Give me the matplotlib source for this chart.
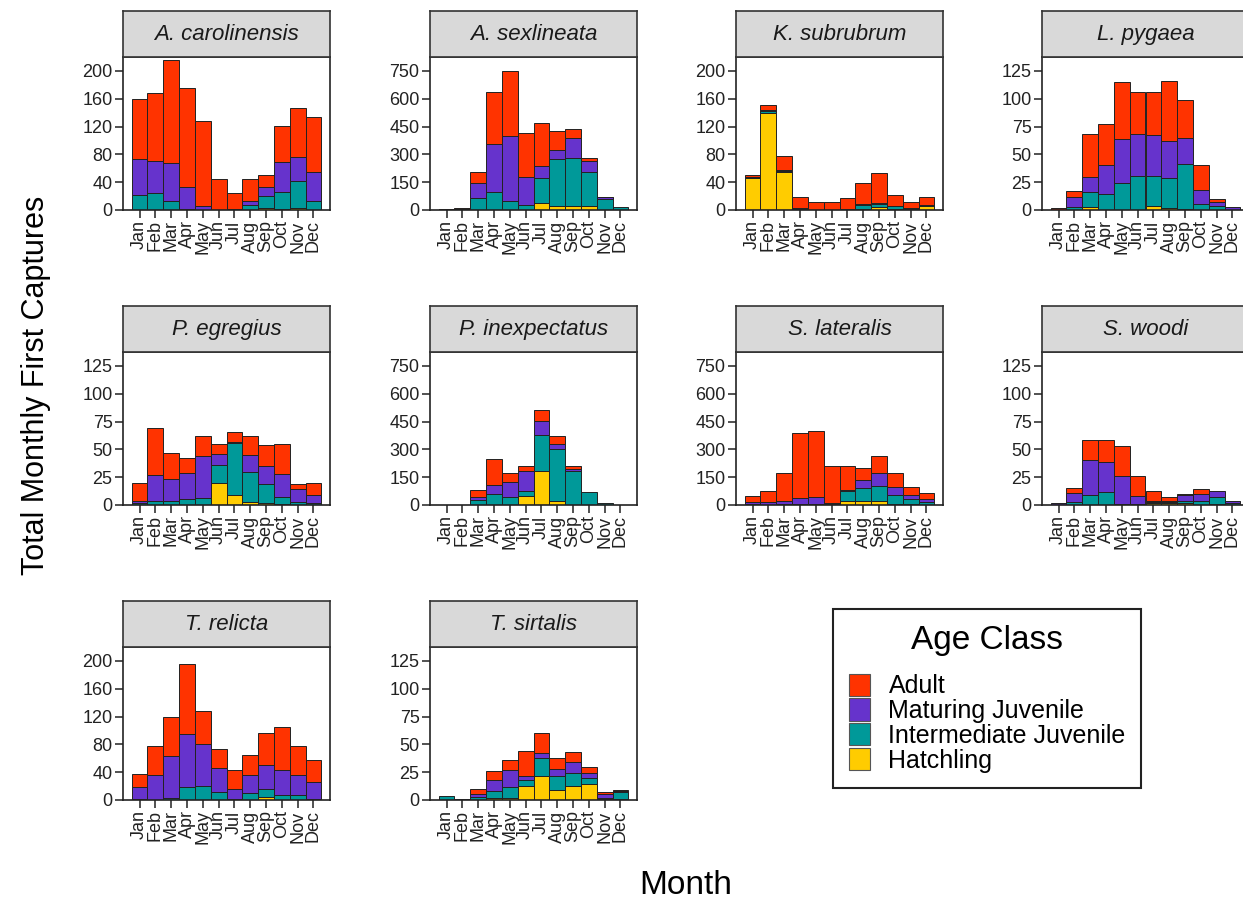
import numpy as np
import matplotlib.pyplot as plt
from matplotlib.patches import Patch

plt.rcParams['font.family'] = ['Liberation Sans', 'DejaVu Sans']

months = ['Jan', 'Feb', 'Mar', 'Apr', 'May', 'Jun',
          'Jul', 'Aug', 'Sep', 'Oct', 'Nov', 'Dec']
# stacking order, bottom to top
classes = ['Hatchling', 'Intermediate Juvenile', 'Maturing Juvenile', 'Adult']
legend_order = ['Adult', 'Maturing Juvenile', 'Intermediate Juvenile', 'Hatchling']
class_colors = {'Adult': '#FF3300', 'Maturing Juvenile': '#6633CC',
                'Intermediate Juvenile': '#009999', 'Hatchling': '#FFCC00'}

# rows: hatchling, intermediate, maturing, adult
a_carolinensis = [[0, 0, 0, 0, 0, 0, 0, 0, 3, 2, 3, 0],
                  [22, 24, 13, 1, 0, 0, 0, 7, 17, 24, 38, 13],
                  [51, 46, 55, 32, 6, 0, 1, 6, 13, 43, 35, 42],
                  [86, 98, 147, 142, 122, 44, 24, 32, 18, 52, 71, 79]]
a_sexlineata = [[0, 0, 0, 0, 0, 0, 36, 23, 23, 22, 0, 0],
                [0, 2, 63, 99, 49, 27, 138, 252, 256, 181, 58, 15],
                [2, 4, 81, 257, 352, 153, 63, 49, 111, 61, 10, 0],
                [1, 3, 59, 282, 349, 237, 234, 102, 47, 18, 2, 0]]
k_subrubrum = [[46, 139, 55, 2, 0, 0, 0, 2, 5, 2, 1, 6],
               [1, 3, 1, 1, 0, 0, 1, 5, 3, 4, 2, 1],
               [1, 2, 1, 0, 0, 0, 0, 2, 2, 0, 0, 0],
               [3, 7, 20, 15, 12, 12, 16, 30, 43, 15, 8, 12]]
l_pygaea = [[0, 0, 3, 0, 0, 0, 4, 2, 1, 0, 0, 0],
            [0, 3, 13, 14, 24, 31, 27, 27, 40, 5, 4, 0],
            [0, 9, 14, 26, 40, 37, 36, 33, 24, 13, 3, 3],
            [2, 5, 38, 37, 51, 38, 39, 54, 34, 22, 3, 0]]
p_egregius = [[0, 0, 0, 0, 0, 20, 9, 3, 2, 1, 0, 0],
              [2, 4, 4, 5, 6, 16, 47, 27, 17, 6, 3, 2],
              [2, 23, 19, 24, 38, 10, 1, 15, 16, 21, 11, 7],
              [16, 42, 24, 13, 18, 9, 9, 17, 19, 27, 5, 11]]
p_inexpectatus = [[0, 0, 0, 0, 0, 51, 186, 20, 0, 0, 0, 0],
                  [0, 0, 27, 60, 45, 27, 194, 284, 185, 72, 10, 2],
                  [0, 0, 15, 50, 81, 103, 75, 27, 7, 0, 0, 0],
                  [0, 0, 41, 139, 47, 27, 55, 41, 18, 0, 0, 0]]
s_lateralis = [[0, 0, 0, 0, 0, 0, 20, 24, 20, 4, 3, 0],
               [3, 2, 3, 3, 3, 7, 54, 66, 85, 50, 30, 15],
               [12, 12, 20, 33, 39, 2, 9, 46, 69, 42, 21, 18],
               [36, 60, 149, 353, 359, 199, 127, 64, 88, 76, 42, 30]]
s_woodi = [[0, 0, 0, 0, 0, 0, 2, 2, 2, 0, 1, 0],
           [0, 3, 9, 12, 1, 1, 1, 1, 2, 4, 6, 2],
           [2, 8, 31, 27, 25, 7, 1, 1, 5, 6, 6, 2],
           [0, 4, 18, 19, 27, 18, 9, 3, 1, 4, 0, 0]]
t_relicta = [[0, 0, 0, 0, 0, 0, 0, 0, 4, 0, 0, 0],
             [2, 0, 3, 19, 20, 12, 1, 10, 12, 7, 7, 1],
             [17, 36, 60, 76, 61, 34, 15, 26, 35, 36, 29, 25],
             [19, 41, 57, 100, 47, 28, 27, 29, 45, 62, 41, 32]]
t_sirtalis = [[0, 0, 0, 2, 2, 13, 22, 9, 13, 14, 1, 1],
              [4, 0, 3, 6, 10, 5, 16, 13, 11, 6, 1, 6],
              [0, 1, 2, 10, 15, 4, 4, 6, 10, 4, 3, 1],
              [0, 0, 5, 8, 9, 22, 18, 10, 9, 6, 2, 1]]

species_names = ['A. carolinensis', 'A. sexlineata', 'K. subrubrum', 'L. pygaea',
                 'P. egregius', 'P. inexpectatus', 'S. lateralis', 'S. woodi',
                 'T. relicta', 'T. sirtalis']
species_data = [a_carolinensis, a_sexlineata, k_subrubrum, l_pygaea,
                p_egregius, p_inexpectatus, s_lateralis, s_woodi,
                t_relicta, t_sirtalis]
top_ticks = [200, 750, 200, 125, 125, 750, 750, 125, 200, 125]

W, H = 1243, 906
fig = plt.figure(figsize=(W / 100, H / 100), dpi=100)

col_left = [123, 430, 736, 1042]
panel_w = 207
row_strip_top = [11, 306, 601]
strip_h = 46
panel_h = 153
edge = '#222222'

x = np.arange(1, 13)
for i, (name, data, ymax) in enumerate(zip(species_names, species_data, top_ticks)):
    r, c = divmod(i, 4)
    left = col_left[c] / W
    top = row_strip_top[r]
    ax = fig.add_axes([left, 1 - (top + strip_h + panel_h) / H, panel_w / W, panel_h / H])
    st = fig.add_axes([left, 1 - (top + strip_h) / H, panel_w / W, strip_h / H])

    bottom = np.zeros(12)
    for cls, vals in zip(classes, data):
        vals = np.array(vals, dtype=float)
        m = vals > 0
        ax.bar(x[m], vals[m], width=1, bottom=bottom[m], color=class_colors[cls],
               edgecolor=edge, linewidth=0.7)
        bottom += vals

    ax.set_xlim(-0.05, 13.05)
    ax.set_ylim(0, ymax * 1.1)
    ticks = np.linspace(0, ymax, 6)
    ax.set_yticks(ticks)
    ax.set_yticklabels([f'{v:g}' for v in ticks])
    ax.set_xticks(x)
    ax.set_xticklabels(months, rotation=90)
    ax.tick_params(direction='out', length=5.5, width=1.2, color='#333333',
                   labelsize=13, labelcolor='#222222', pad=2)
    for s in ax.spines.values():
        s.set_linewidth(1.2)
        s.set_color(edge)

    st.set_facecolor('#D9D9D9')
    st.set_xticks([])
    st.set_yticks([])
    for s in st.spines.values():
        s.set_linewidth(1.2)
        s.set_color('#333333')
    st.text(0.5, 0.48, name, transform=st.transAxes, ha='center', va='center',
            fontsize=16, style='italic', color='#1a1a1a')

fig.text(686 / W, 1 - 886 / H, 'Month', ha='center', va='center', fontsize=24)
fig.text(36 / W, 1 - 385 / H, 'Total Monthly First Captures', ha='center',
         va='center', rotation=90, fontsize=22)

handles = [Patch(facecolor=class_colors[k], edgecolor='#555555', linewidth=0.8)
           for k in legend_order]
leg = fig.legend(handles, legend_order, title='Age Class',
                 loc='upper left', bbox_to_anchor=(833 / W, 1 - 609 / H),
                 fontsize=18, title_fontsize=24, frameon=True, fancybox=False,
                 edgecolor='#222222', framealpha=1, handlelength=0.85,
                 handleheight=1.0, labelspacing=0.0, handletextpad=0.75,
                 borderpad=0.62, borderaxespad=0)
leg._legend_box.sep = 13
leg.get_frame().set_linewidth(1.5)

fig.savefig('out.png', dpi=100)
